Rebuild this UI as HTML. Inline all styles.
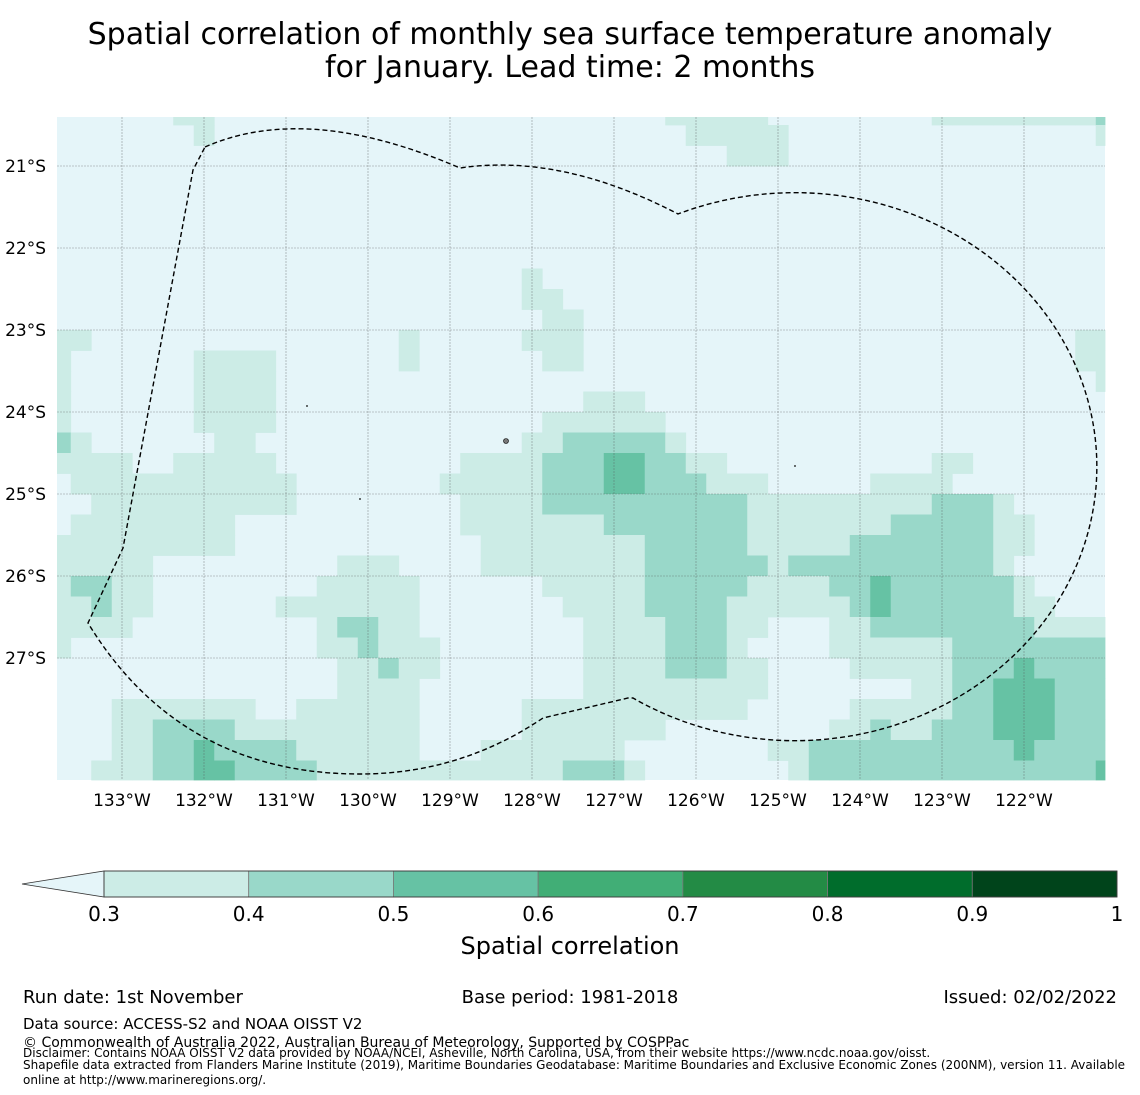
<!DOCTYPE html>
<html><head><meta charset="utf-8">
<style>
html,body{margin:0;padding:0;background:#fff;}
svg{display:block;font-family:"DejaVu Sans","Liberation Sans",sans-serif;}
</style></head>
<body>
<svg id="chart" width="1140" height="1095" viewBox="0 0 1140 1095">
<g>
<text x="570" y="44" font-size="30" text-anchor="middle" fill="#000">Spatial correlation of monthly sea surface temperature anomaly</text>
<text x="570" y="77" font-size="30" text-anchor="middle" fill="#000">for January. Lead time: 2 months</text>
</g>
<g id="cells"></g>
<g id="grid"></g>
<path fill="none" stroke="#000" stroke-width="1.4" stroke-dasharray="5,3"
 d="M205,147 Q307,102 460,168 Q561,153 678,214 A302,274 0 1 1 633,698 L628,698 L543,718 Q460,774 360,774 Q180,774 88,623 L123,548 L193,170 Z"/>
<g fill="#777" stroke="#000" stroke-width="0.6">
<circle cx="506" cy="441" r="2.5"/><circle cx="307" cy="406" r="0.6"/><circle cx="360" cy="499" r="0.6"/><circle cx="795" cy="466" r="0.6"/>
</g>
<g id="yticks"></g>
<g id="xticks"></g>
<g id="cbar"></g>
<text x="570" y="954" font-size="24" text-anchor="middle">Spatial correlation</text>
<g fill="#000">
<text x="23" y="1003" font-size="18">Run date: 1st November</text>
<text x="570" y="1003" font-size="18" text-anchor="middle">Base period: 1981-2018</text>
<text x="1117" y="1003" font-size="18" text-anchor="end">Issued: 02/02/2022</text>
<text x="23" y="1029" font-size="15">Data source: ACCESS-S2 and NOAA OISST V2</text>
<text x="23" y="1047" font-size="14">© Commonwealth of Australia 2022, Australian Bureau of Meteorology, Supported by COSPPac</text>
<text x="23" y="1057" font-size="12">Disclaimer: Contains NOAA OISST V2 data provided by NOAA/NCEI, Asheville, North Carolina, USA, from their website https://www.ncdc.noaa.gov/oisst.</text>
<text x="23" y="1069" font-size="12">Shapefile data extracted from Flanders Marine Institute (2019), Maritime Boundaries Geodatabase: Maritime Boundaries and Exclusive Economic Zones (200NM), version 11. Available</text>
<text x="23" y="1084" font-size="12">online at http://www.marineregions.org/.</text>
</g>
</svg>
<script>
// correlation class per cell: 0 (<0.3), 1 (0.3-0.4), 2 (0.4-0.5), 3 (0.5-0.6); rows north to south
const gridRows = [
"0000001100000000000000000000001111100000000111111112",
"0000000100000000000000000000000111110000000000000001",
"0000000000000000000000000000000001110000000000000000",
"0000000000000000000000000000000000000000000000000000",
"0000000000000000000000000000000000000000000000000000",
"0000000000000000000000000000000000000000000000000000",
"0000000000000000000000000000000000000000000000000000",
"0000000000000000000000000000000000000000000000000000",
"0000000000000000000000010000000000000000000000000000",
"0000000000000000000000011000000000000000000000000000",
"0000000000000000000000001100000000000000000000000000",
"1100000000000000010000011100000000000000000000000011",
"1000000111100000010000001100000000000000000000000011",
"1000000111100000000000000000000000000000000000000001",
"1000000111100000000000000011100000000000000000000000",
"1000000111100000000000001111110000000000000000000000",
"2100000011000000000000011222221000000000000000000000",
"1111001111100000000011112223322110000000000110000000",
"0111111111110000000111112223322211100000111100000000",
"0011111111110000000011112222222222111111111222100000",
"0111111110000000000011111112222222111111122222110000",
"1111111110000000000001111111122222111112222222110000",
"1111100000000011100001111111122222212222222222100000",
"1221100000000111110000001111122222111122322222210000",
"1121100000011111110000000111122221111112322222211000",
"1111000000000122110000000011112221100011222222221111",
"1000000000000112111000000011112221000011111122222222",
"0000000000000011211000000011112221100001111122232222",
"0000000000000011110000000011111111100000001122333222",
"0001111111001111110000011111111111000001111122333222",
"0001122221111111110000011111110000000011211222333222",
"0001122322221111110001111111000000011222222222232222",
"0011122332222111111111111222100000001222222222222223"
];
const classColors = ["#e5f5f9","#ccece6","#99d8c9","#66c2a4","#41ae76","#238b45","#006d2c","#00441b"];
const cbarBounds = ["0.3","0.4","0.5","0.6","0.7","0.8","0.9","1"];
const latLabels = ["21°S","22°S","23°S","24°S","25°S","26°S","27°S"];
const latValues = [-21,-22,-23,-24,-25,-26,-27];
const lonLabels = ["133°W","132°W","131°W","130°W","129°W","128°W","127°W","126°W","125°W","124°W","123°W","122°W"];
const lonValues = [-133,-132,-131,-130,-129,-128,-127,-126,-125,-124,-123,-122];

const NS="http://www.w3.org/2000/svg";
const MAPL=57, MAPR=1105, MAPT=117, MAPB=780;
const PX=82;
const xLon = lon => 122 + (lon + 133) * PX;
const yLat = lat => 166 + (-21 - lat) * PX;
const colLeft = c => Math.max(MAPL, xLon(-133.875 + 0.25 * c));
const colRight = c => Math.min(MAPR, xLon(-133.625 + 0.25 * c));
const rowTop = r => Math.max(MAPT, yLat(-20.25 - 0.25 * r));
const rowBot = r => Math.min(MAPB, yLat(-20.5 - 0.25 * r));

const cells = document.getElementById('cells');
const bg = document.createElementNS(NS,'rect');
bg.setAttribute('x',MAPL);bg.setAttribute('y',MAPT);bg.setAttribute('width',MAPR-MAPL);bg.setAttribute('height',MAPB-MAPT);bg.setAttribute('fill',classColors[0]);


cells.appendChild(bg);
gridRows.forEach((row, r) => {
  for (let c = 0; c < row.length; c++) {
    const v = +row[c];
    if (v === 0) continue;
    const x0 = colLeft(c), x1 = colRight(c), y0 = rowTop(r), y1 = rowBot(r);
    if (x1 <= x0 || y1 <= y0) continue;
    const el = document.createElementNS(NS,'rect');
    el.setAttribute('x', x0); el.setAttribute('y', y0);
    el.setAttribute('width', x1 - x0 + 0.4); el.setAttribute('height', y1 - y0 + 0.4);
    el.setAttribute('fill', classColors[v]);
    
    
    cells.appendChild(el);
  }
});

const grid = document.getElementById('grid');
const yt = document.getElementById('yticks');
latValues.forEach((lat, i) => {
  const y = yLat(lat);
  const l = document.createElementNS(NS,'line');
  l.setAttribute('x1',MAPL);l.setAttribute('x2',MAPR);l.setAttribute('y1',y);l.setAttribute('y2',y);
  l.setAttribute('stroke','#555');l.setAttribute('stroke-width','0.6');l.setAttribute('stroke-dasharray','2,1');l.setAttribute('opacity','0.6');
  
  
  grid.appendChild(l);
  const t = document.createElementNS(NS,'text');
  t.setAttribute('x',46);t.setAttribute('y',y+6);t.setAttribute('font-size','17');t.setAttribute('text-anchor','end');
  t.textContent = latLabels[i];
  
  
  yt.appendChild(t);
});
const xt = document.getElementById('xticks');
lonValues.forEach((lon, i) => {
  const x = xLon(lon);
  const l = document.createElementNS(NS,'line');
  l.setAttribute('x1',x);l.setAttribute('x2',x);l.setAttribute('y1',MAPT);l.setAttribute('y2',MAPB);
  l.setAttribute('stroke','#555');l.setAttribute('stroke-width','0.6');l.setAttribute('stroke-dasharray','2,1');l.setAttribute('opacity','0.6');
  
  
  grid.appendChild(l);
  const t = document.createElementNS(NS,'text');
  t.setAttribute('x',x);t.setAttribute('y',806);t.setAttribute('font-size','17');t.setAttribute('text-anchor','middle');
  t.textContent = lonLabels[i];
  
  
  xt.appendChild(t);
});

const cb = document.getElementById('cbar');
const CBL=104, CBR=1117, CBT=871, CBB=897;
const segW = (CBR-CBL)/(cbarBounds.length-1);
const tri = document.createElementNS(NS,'polygon');
tri.setAttribute('points', `22,884 ${CBL},${CBT} ${CBL},${CBB}`);
tri.setAttribute('fill', classColors[0]); tri.setAttribute('stroke','#333'); tri.setAttribute('stroke-width','0.8');


cb.appendChild(tri);
for (let i = 0; i < cbarBounds.length - 1; i++) {
  const r = document.createElementNS(NS,'rect');
  r.setAttribute('x', CBL + i*segW); r.setAttribute('y', CBT); r.setAttribute('width', segW); r.setAttribute('height', CBB-CBT);
  r.setAttribute('fill', classColors[i+1]); r.setAttribute('stroke','#777'); r.setAttribute('stroke-width','0.8');
  
  
  cb.appendChild(r);
}
const frame = document.createElementNS(NS,'rect');
frame.setAttribute('x',CBL);frame.setAttribute('y',CBT);frame.setAttribute('width',CBR-CBL);frame.setAttribute('height',CBB-CBT);
frame.setAttribute('fill','none');frame.setAttribute('stroke','#333');frame.setAttribute('stroke-width','0.8');


cb.appendChild(frame);
cbarBounds.forEach((lab, i) => {
  const t = document.createElementNS(NS,'text');
  t.setAttribute('x', CBL + i*segW); t.setAttribute('y', 921); t.setAttribute('font-size','20'); t.setAttribute('text-anchor','middle');
  t.textContent = lab;
  
  
  cb.appendChild(t);
});
</script>
</body></html>
